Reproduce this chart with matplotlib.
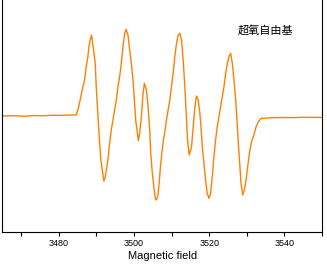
import matplotlib
matplotlib.use("Agg")
import matplotlib.pyplot as plt
from matplotlib.ticker import MultipleLocator

# EPR trace (field in G, signal in arbitrary units)
field = [3465.0, 3468.0, 3471.0, 3473.0, 3476.0, 3478.0, 3480.0, 3482.0, 3484.0,
         3484.63, 3485.08, 3485.70, 3486.23, 3486.86, 3487.30, 3487.75, 3488.01,
         3488.37, 3488.72, 3489.08, 3489.70, 3489.97, 3490.23, 3490.50, 3490.86,
         3491.21, 3491.57, 3491.83, 3492.01, 3492.37, 3492.81, 3493.17, 3493.52,
         3493.97, 3494.41, 3494.86, 3495.30, 3495.75, 3496.19, 3496.63, 3497.08,
         3497.52, 3497.88, 3498.41, 3498.86, 3499.30, 3499.75, 3500.10, 3500.46,
         3500.90, 3501.17, 3501.52, 3501.97, 3502.41, 3502.77, 3503.30, 3503.75,
         3504.19, 3504.46, 3504.81, 3505.26, 3505.61, 3505.88, 3506.32, 3506.68,
         3507.04, 3507.39, 3507.83, 3508.28, 3508.63, 3509.08, 3509.52, 3509.97,
         3510.41, 3510.86, 3511.30, 3511.75, 3512.19, 3512.63, 3513.08, 3513.52,
         3513.97, 3514.23, 3514.68, 3515.30, 3515.75, 3516.19, 3516.63, 3517.07,
         3517.52, 3517.87, 3518.23, 3518.67, 3519.03, 3519.47, 3519.92, 3520.36,
         3520.81, 3521.25, 3521.69, 3522.14, 3522.58, 3523.03, 3523.47, 3523.92,
         3524.36, 3524.81, 3525.25, 3525.69, 3526.14, 3526.58, 3527.03, 3527.38,
         3527.74, 3528.09, 3528.45, 3528.89, 3529.34, 3529.78, 3530.23, 3530.67,
         3531.12, 3531.56, 3532.01, 3532.45, 3533.07, 3533.78, 3534.41, 3536.0,
         3539.0, 3542.0, 3545.0, 3548.0, 3550.0]
signal = [0.0, 0.3, -0.2, 0.5, 0.2, 0.8, 0.6, 0.9, 1.0,
          1.0, 6.0, 16.0, 26.0, 36.0, 49.3, 59.3, 69.3,
          76.0, 81.0, 71.0, 52.7, 29.3, 12.7, -4.0, -27.3,
          -44.0, -54.0, -60.7, -65.0, -60.7, -50.7, -40.7, -27.3,
          -14.0, -4.0, 6.0, 16.0, 29.3, 39.3, 52.7, 69.3,
          82.7, 86.7, 81.0, 66.0, 52.7, 36.0, 16.0, -4.0,
          -17.3, -24.7, -17.3, -0.7, 22.7, 32.7, 26.0, 9.3,
          -14.0, -37.3, -54.0, -70.7, -80.7, -84.0, -80.7, -67.3,
          -50.7, -37.3, -24.0, -14.0, -4.0, 6.0, 16.0, 29.3,
          42.7, 59.3, 72.7, 81.0, 82.7, 76.0, 56.0, 29.3,
          -4.0, -24.0, -39.0, -30.7, -10.7, 9.3, 20.0, 16.0,
          2.7, -14.0, -34.0, -50.7, -64.0, -77.3, -82.3, -77.3,
          -60.7, -40.7, -24.0, -10.7, -0.7, 9.3, 19.3, 29.3,
          42.7, 52.7, 59.3, 62.7, 52.7, 36.0, 16.0, -4.0,
          -27.3, -47.3, -67.3, -79.0, -74.0, -64.0, -50.7, -37.3,
          -27.3, -22.3, -17.3, -10.7, -5.7, -2.3, -2.3, -1.8,
          -1.5, -1.6, -1.3, -1.4, -1.4]

label_text = "超氧自由基"

plt.rcParams["font.family"] = ["Liberation Sans", "Noto Sans CJK SC"]

fig = plt.figure(figsize=(3.27, 2.67), dpi=100)
ax = fig.add_axes([0.007, 0.131, 0.978, 0.869])
ax.plot(field, signal, color="#ff8000", lw=1.0)

ax.set_xlim(3465, 3550)
ax.set_ylim(-116, 116)
ax.xaxis.set_major_locator(MultipleLocator(20))
ax.xaxis.set_minor_locator(MultipleLocator(10))
ax.tick_params(axis="x", which="both", direction="out", length=3, width=0.8,
               labelsize=6.5, pad=2)
ax.set_yticks([])
ax.spines["top"].set_visible(False)
for s in ("left", "right", "bottom"):
    ax.spines[s].set_linewidth(0.8)
ax.set_xlabel("Magnetic field", fontsize=8, labelpad=2)

ax.text(0.737, 0.866, label_text, transform=ax.transAxes, fontsize=8,
        ha="left", va="center", family=["Noto Sans CJK SC", "DejaVu Sans"])

fig.savefig("out.png", dpi=100)
